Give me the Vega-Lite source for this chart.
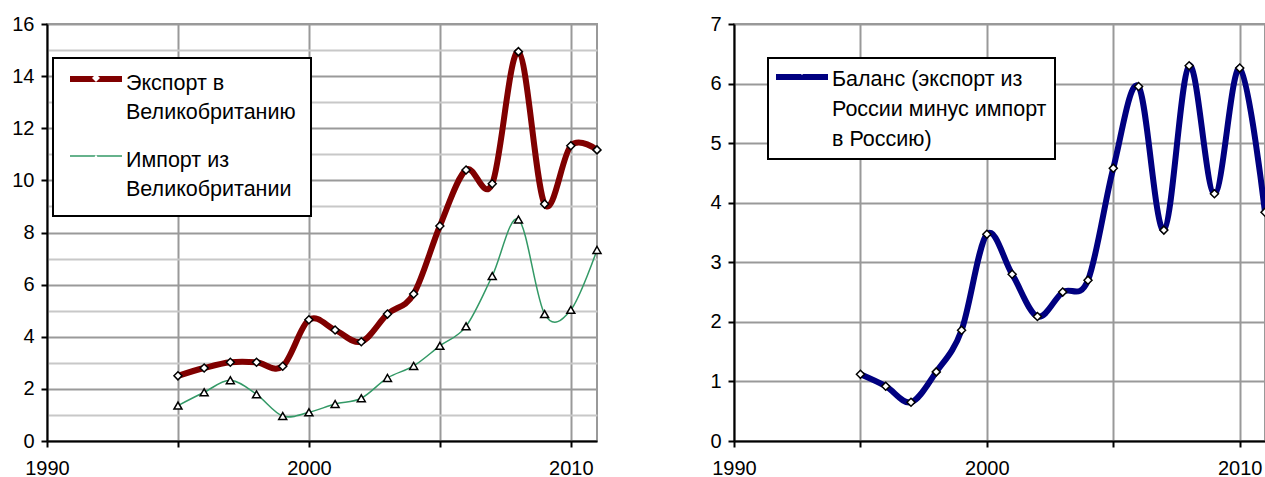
{
  "$schema": "https://vega.github.io/schema/vega-lite/v6.json",
  "padding": {"left": 10, "top": 13, "right": 0, "bottom": 0},
  "spacing": 98,
  "config": {
    "font": "Liberation Sans",
    "view": {"stroke": "#999999", "strokeWidth": 2},
    "axis": {
      "title": null,
      "labelFont": "Liberation Sans",
      "labelFontSize": 20,
      "labelColor": "black",
      "domainColor": "black",
      "domainWidth": 2,
      "tickColor": "black",
      "tickWidth": 2,
      "tickSize": 6,
      "gridColor": "#999999",
      "gridWidth": 2
    },
    "axisX": {"labelPadding": 11, "labelFlush": false},
    "axisY": {"labelPadding": 7}
  },
  "datasets": {
    "trade": [
      {"year": 1995, "series": "Экспорт в Великобританию", "value": 2.5},
      {"year": 1996, "series": "Экспорт в Великобританию", "value": 2.8},
      {"year": 1997, "series": "Экспорт в Великобританию", "value": 3.02},
      {"year": 1998, "series": "Экспорт в Великобританию", "value": 3.02},
      {"year": 1999, "series": "Экспорт в Великобританию", "value": 2.87},
      {"year": 2000, "series": "Экспорт в Великобританию", "value": 4.65},
      {"year": 2001, "series": "Экспорт в Великобританию", "value": 4.26},
      {"year": 2002, "series": "Экспорт в Великобританию", "value": 3.81},
      {"year": 2003, "series": "Экспорт в Великобританию", "value": 4.87},
      {"year": 2004, "series": "Экспорт в Великобританию", "value": 5.64},
      {"year": 2005, "series": "Экспорт в Великобританию", "value": 8.25},
      {"year": 2006, "series": "Экспорт в Великобританию", "value": 10.4},
      {"year": 2007, "series": "Экспорт в Великобританию", "value": 9.87},
      {"year": 2008, "series": "Экспорт в Великобританию", "value": 14.94},
      {"year": 2009, "series": "Экспорт в Великобританию", "value": 9.09},
      {"year": 2010, "series": "Экспорт в Великобританию", "value": 11.33},
      {"year": 2011, "series": "Экспорт в Великобританию", "value": 11.17},
      {"year": 1995, "series": "Импорт из Великобритании", "value": 1.36},
      {"year": 1996, "series": "Импорт из Великобритании", "value": 1.87},
      {"year": 1997, "series": "Импорт из Великобритании", "value": 2.33},
      {"year": 1998, "series": "Импорт из Великобритании", "value": 1.79},
      {"year": 1999, "series": "Импорт из Великобритании", "value": 0.96},
      {"year": 2000, "series": "Импорт из Великобритании", "value": 1.1},
      {"year": 2001, "series": "Импорт из Великобритании", "value": 1.42},
      {"year": 2002, "series": "Импорт из Великобритании", "value": 1.64},
      {"year": 2003, "series": "Импорт из Великобритании", "value": 2.42},
      {"year": 2004, "series": "Импорт из Великобритании", "value": 2.88},
      {"year": 2005, "series": "Импорт из Великобритании", "value": 3.65},
      {"year": 2006, "series": "Импорт из Великобритании", "value": 4.4},
      {"year": 2007, "series": "Импорт из Великобритании", "value": 6.33},
      {"year": 2008, "series": "Импорт из Великобритании", "value": 8.5},
      {"year": 2009, "series": "Импорт из Великобритании", "value": 4.87},
      {"year": 2010, "series": "Импорт из Великобритании", "value": 5.03},
      {"year": 2011, "series": "Импорт из Великобритании", "value": 7.33}
    ],
    "balance": [
      {"year": 1995, "series": "Баланс (экспорт из России минус импорт в Россию)", "value": 1.12},
      {"year": 1996, "series": "Баланс (экспорт из России минус импорт в Россию)", "value": 0.92},
      {"year": 1997, "series": "Баланс (экспорт из России минус импорт в Россию)", "value": 0.65},
      {"year": 1998, "series": "Баланс (экспорт из России минус импорт в Россию)", "value": 1.16},
      {"year": 1999, "series": "Баланс (экспорт из России минус импорт в Россию)", "value": 1.86},
      {"year": 2000, "series": "Баланс (экспорт из России минус импорт в Россию)", "value": 3.47},
      {"year": 2001, "series": "Баланс (экспорт из России минус импорт в Россию)", "value": 2.8},
      {"year": 2002, "series": "Баланс (экспорт из России минус импорт в Россию)", "value": 2.09},
      {"year": 2003, "series": "Баланс (экспорт из России минус импорт в Россию)", "value": 2.5},
      {"year": 2004, "series": "Баланс (экспорт из России минус импорт в Россию)", "value": 2.7},
      {"year": 2005, "series": "Баланс (экспорт из России минус импорт в Россию)", "value": 4.58},
      {"year": 2006, "series": "Баланс (экспорт из России минус импорт в Россию)", "value": 5.95},
      {"year": 2007, "series": "Баланс (экспорт из России минус импорт в Россию)", "value": 3.54},
      {"year": 2008, "series": "Баланс (экспорт из России минус импорт в Россию)", "value": 6.3},
      {"year": 2009, "series": "Баланс (экспорт из России минус импорт в Россию)", "value": 4.15},
      {"year": 2010, "series": "Баланс (экспорт из России минус импорт в Россию)", "value": 6.26},
      {"year": 2011, "series": "Баланс (экспорт из России минус импорт в Россию)", "value": 3.84}
    ]
  },
  "hconcat": [
    {
      "width": 550,
      "height": 417,
      "data": {"name": "trade"},
      "encoding": {
        "x": {
          "field": "year", "type": "quantitative",
          "scale": {"domain": [1990, 2011], "nice": false, "zero": false},
          "axis": {"values": [1990, 1995, 2000, 2005, 2010], "format": "d", "labelExpr": "datum.value % 10 === 0 ? datum.label : ''"}
        },
        "y": {
          "field": "value", "type": "quantitative",
          "scale": {"domain": [0, 16], "nice": false},
          "axis": {
            "values": [0,1,2,3,4,5,6,7,8,9,10,11,12,13,14,15,16],
            "labelExpr": "datum.value % 2 === 0 ? datum.label : ''",
            "gridColor": {"condition": {"test": "datum.value % 2 === 0", "value": "#9a9a9a"}, "value": "#c8c8c8"},
            "tickOpacity": {"condition": {"test": "datum.value % 2 === 0", "value": 1}, "value": 0}
          }
        }
      },
      "layer": [
        {
          "mark": {"type": "line", "interpolate": "cardinal"},
          "encoding": {
            "color": {
              "field": "series", "type": "nominal",
              "scale": {"domain": ["Экспорт в Великобританию", "Импорт из Великобритании"], "range": ["#800000", "#339966"]},
              "legend": {
                "orient": "none", "legendX": 6, "legendY": 34, "direction": "vertical",
                "title": null, "padding": 15,
                "fillColor": "white", "strokeColor": "black",
                "symbolType": "stroke", "symbolSize": 2704,
                "labelFont": "Liberation Sans", "labelFontSize": 21.5, "labelColor": "black", "labelLimit": 400,
                "labelBaseline": "top", "labelAlign": "left", "rowPadding": 26, "zindex": 1,
                "labelExpr": "datum.label === 'Экспорт в Великобританию' ? ['Экспорт в', 'Великобританию'] : ['Импорт из', 'Великобритании']",
                "encode": {
                  "legend": {"update": {"strokeWidth": {"value": 2}}},
                  "symbols": {"update": {"x": {"value": 28}, "y": {"value": 6}}},
                  "labels": {"update": {"lineHeight": {"value": 29}, "x": {"value": 58}, "y": {"value": 0}}}
                }
              }
            },
            "strokeWidth": {
              "field": "series", "type": "nominal",
              "scale": {"domain": ["Экспорт в Великобританию", "Импорт из Великобритании"], "range": [6, 1.5]}
            }
          }
        },
        {
          "mark": {"type": "point", "filled": true, "fill": "white", "stroke": "black", "strokeWidth": 1.5, "opacity": 1, "size": 64},
          "encoding": {
            "shape": {
              "field": "series", "type": "nominal", "sort": "descending",
              "scale": {"range": ["diamond", "triangle-up"]},
              "legend": {
                "orient": "none", "legendX": 29, "legendY": 34, "direction": "vertical",
                "title": null, "padding": 15,
                "symbolSize": 64, "symbolFillColor": "white", "symbolStrokeColor": "black", "symbolStrokeWidth": 1.5,
                "labelFontSize": 1, "labelOpacity": 0, "labelExpr": "''",
                "rowPadding": 66, "zindex": 10,
                "encode": {
                  "symbols": {"update": {
                    "x": {"value": 5}, "y": {"value": 6},
                    "shape": {"signal": "datum.value === 'Экспорт в Великобританию' ? 'diamond' : 'triangle-up'"},
                    "fill": {"value": "white"}, "stroke": {"value": "black"},
                    "strokeWidth": {"value": 1.5}, "opacity": {"value": 1},
                    "size": {"value": 64}
                  }}
                }
              }
            }
          }
        }
      ]
    },
    {
      "width": 531,
      "height": 417,
      "data": {"name": "balance"},
      "encoding": {
        "x": {
          "field": "year", "type": "quantitative",
          "scale": {"domain": [1990, 2011], "nice": false, "zero": false},
          "axis": {"values": [1990, 1995, 2000, 2005, 2010], "format": "d", "labelExpr": "datum.value % 10 === 0 ? datum.label : ''"}
        },
        "y": {
          "field": "value", "type": "quantitative",
          "scale": {"domain": [0, 7], "nice": false},
          "axis": {"values": [0,1,2,3,4,5,6,7]}
        }
      },
      "layer": [
        {
          "mark": {"type": "line", "interpolate": "cardinal", "strokeWidth": 6},
          "encoding": {
            "color": {
              "field": "series", "type": "nominal",
              "scale": {"domain": ["Баланс (экспорт из России минус импорт в Россию)"], "range": ["#000080"]},
              "legend": {
                "orient": "none", "legendX": 34, "legendY": 34, "direction": "vertical",
                "title": null, "padding": 8,
                "fillColor": "white", "strokeColor": "black",
                "symbolType": "stroke", "symbolSize": 2704, "symbolStrokeWidth": 6,
                "labelFont": "Liberation Sans", "labelFontSize": 21.5, "labelColor": "black", "labelLimit": 400,
                "labelBaseline": "top", "labelAlign": "left", "zindex": 1,
                "labelExpr": "['Баланс (экспорт из', 'России минус импорт', 'в Россию)']",
                "encode": {
                  "legend": {"update": {"strokeWidth": {"value": 2}}},
                  "symbols": {"update": {"x": {"value": 26}, "y": {"value": 11}}},
                  "labels": {"update": {"lineHeight": {"value": 30}, "x": {"value": 56}, "y": {"value": 3}}}
                }
              }
            }
          }
        },
        {
          "mark": {"type": "point", "filled": true, "fill": "white", "stroke": "black", "strokeWidth": 1.5, "opacity": 1, "size": 64},
          "encoding": {
            "shape": {
              "field": "series", "type": "nominal",
              "scale": {"range": ["diamond"]},
              "legend": {
                "orient": "none", "legendX": 55, "legendY": 34, "direction": "vertical",
                "title": null, "padding": 8,
                "symbolSize": 64, "symbolFillColor": "white", "symbolStrokeColor": "black", "symbolStrokeWidth": 1.5,
                "labelFontSize": 1, "labelOpacity": 0, "labelExpr": "''",
                "zindex": 10,
                "encode": {
                  "symbols": {"update": {
                    "x": {"value": 5}, "y": {"value": 11},
                    "shape": {"value": "diamond"},
                    "fill": {"value": "white"}, "stroke": {"value": "black"},
                    "strokeWidth": {"value": 1.5}, "opacity": {"value": 1},
                    "size": {"value": 64}
                  }}
                }
              }
            }
          }
        }
      ]
    }
  ],
  "resolve": {
    "scale": {"color": "independent", "shape": "independent", "strokeWidth": "independent"},
    "legend": {"color": "independent", "shape": "independent", "strokeWidth": "independent"}
  }
}
